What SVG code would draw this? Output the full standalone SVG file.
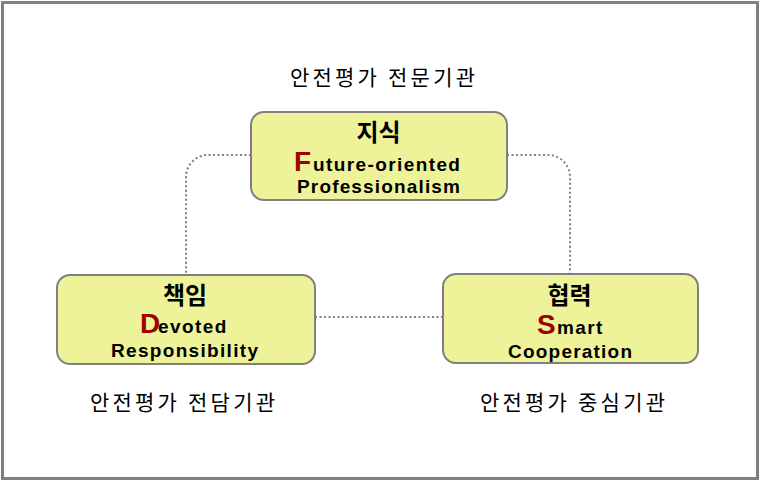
<svg xmlns="http://www.w3.org/2000/svg" width="761" height="481" viewBox="0 0 761 481">
<style>
.box{fill:#EEF39A;stroke:#808080;stroke-width:2}
.conn{fill:none;stroke:#808080;stroke-width:2;stroke-dasharray:2 2.5}
.ko{font-family:"Noto Sans CJK KR","Noto Sans",sans-serif;font-weight:bold;font-size:24px;fill:#000;text-anchor:middle}
.sub{font-family:"Noto Sans CJK KR","Noto Sans",sans-serif;font-size:21px;fill:#000}
.en{font-family:"Liberation Sans",Arial,sans-serif;font-weight:bold;font-size:19px;fill:#000}
.cap{font-size:28px;fill:#A00000;letter-spacing:0}
.rest{letter-spacing:1.4px}
</style>
<rect x="2.5" y="2.5" width="755" height="476" fill="#fff" stroke="#808080" stroke-width="3"/>
<g id="connectors">
<path class="conn" d="M251 155 H208 A22 22 0 0 0 186 177 V275"/>
<path class="conn" d="M507 155 H548 A22 22 0 0 1 570 177 V274"/>
<path class="conn" d="M315 317 H443"/>
</g>
<g id="top">
<rect class="box" x="251" y="112" width="256" height="88" rx="13"/>
<text class="ko" x="378.5" y="141">지식</text>
<text class="en" x="294" y="171"><tspan class="cap">F</tspan><tspan class="rest" x="313">uture-oriented</tspan></text>
<text class="en" x="297" y="193" textLength="163" lengthAdjust="spacing">Professionalism</text>
</g>
<g id="left">
<rect class="box" x="57" y="275" width="258" height="89" rx="13"/>
<text class="ko" x="185" y="304">책임</text>
<text class="en" x="140" y="333"><tspan class="cap">D</tspan><tspan class="rest" x="158">evoted</tspan></text>
<text class="en" x="111" y="357" textLength="147" lengthAdjust="spacing">Responsibility</text>
</g>
<g id="right">
<rect class="box" x="443" y="274" width="255" height="89" rx="13"/>
<text class="ko" x="569.5" y="304">협력</text>
<text class="en" x="537" y="334"><tspan class="cap">S</tspan><tspan class="rest" x="557">mart</tspan></text>
<text class="en" x="508" y="358" textLength="124" lengthAdjust="spacing">Cooperation</text>
</g>
<g id="labels">
<text class="sub" x="290" y="85" textLength="185" lengthAdjust="spacing">안전평가 전문기관</text>
<text class="sub" x="90" y="410" textLength="185" lengthAdjust="spacing">안전평가 전담기관</text>
<text class="sub" x="480" y="410" textLength="185" lengthAdjust="spacing">안전평가 중심기관</text>
</g>
</svg>
